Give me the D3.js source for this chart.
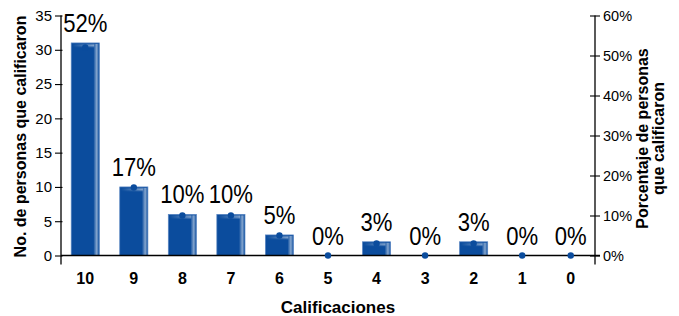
<!DOCTYPE html>
<html>
<head>
<meta charset="utf-8">
<script src="https://cdn.jsdelivr.net/npm/d3@7"></script>
<style>
  html, body { margin: 0; padding: 0; background: #fff; }
  svg { display: block; }
  text { font-family: "Liberation Sans", Arial, sans-serif; fill: #000; }
</style>
</head>
<body>
<svg id="chart" width="679" height="316"></svg>
<script>
const categories = ["10", "9", "8", "7", "6", "5", "4", "3", "2", "1", "0"];
const counts = [31, 10, 6, 6, 3, 0, 2, 0, 2, 0, 0];
const percents = [52, 17, 10, 10, 5, 0, 3, 0, 3, 0, 0];
const leftTicks = [0, 5, 10, 15, 20, 25, 30, 35];
const rightTicks = [0, 10, 20, 30, 40, 50, 60];
const leftTitle = "No. de personas que calificaron";
const rightTitleLines = ["Porcentaje de personas", "que calificaron"];
const xTitle = "Calificaciones";

const W = 679, H = 316;
const margin = { top: 15.5, right: 84, bottom: 60.5, left: 61 };
const svg = d3.select("#chart");
const x0 = margin.left, x1 = W - margin.right;
const y0 = H - margin.bottom, y1 = margin.top;

const x = d3.scaleBand().domain(categories).range([x0, x1]).paddingInner(0.42).paddingOuter(0.21);
const yL = d3.scaleLinear().domain([0, 35]).range([y0, y1]);
const yR = d3.scaleLinear().domain([0, 60]).range([y0, y1]);

const blue = "#0b4c9d";
const defs = svg.append("defs");
const gR = defs.append("linearGradient").attr("id", "gRight").attr("x1", 0).attr("x2", 1).attr("y1", 0).attr("y2", 0);
gR.append("stop").attr("offset", "0%").attr("stop-color", "#fff").attr("stop-opacity", 0);
gR.append("stop").attr("offset", "60%").attr("stop-color", "#fff").attr("stop-opacity", 0.5);
gR.append("stop").attr("offset", "100%").attr("stop-color", "#fff").attr("stop-opacity", 0.1);
const gT = defs.append("linearGradient").attr("id", "gTop").attr("x1", 0).attr("x2", 0).attr("y1", 0).attr("y2", 1);
gT.append("stop").attr("offset", "0%").attr("stop-color", "#fff").attr("stop-opacity", 0.15);
gT.append("stop").attr("offset", "45%").attr("stop-color", "#fff").attr("stop-opacity", 0.5);
gT.append("stop").attr("offset", "100%").attr("stop-color", "#fff").attr("stop-opacity", 0);
const gTh = defs.append("linearGradient").attr("id", "gTopFade").attr("x1", 0).attr("x2", 1).attr("y1", 0).attr("y2", 0);
gTh.append("stop").attr("offset", "0%").attr("stop-color", "#fff").attr("stop-opacity", 0);
gTh.append("stop").attr("offset", "100%").attr("stop-color", "#fff").attr("stop-opacity", 1);
const mTop = defs.append("mask").attr("id", "mTop").attr("maskContentUnits", "objectBoundingBox");
mTop.append("rect").attr("width", 1).attr("height", 1).attr("fill", "url(#gTopFade)");

const data = categories.map((c, i) => ({ c, n: counts[i], p: percents[i] }));
const bw = x.bandwidth();

// bars
const bars = svg.append("g").selectAll("g").data(data.filter(d => d.n > 0)).join("g");
bars.append("rect")
  .attr("x", d => x(d.c)).attr("y", d => yL(d.n))
  .attr("width", bw).attr("height", d => yL(0) - yL(d.n))
  .attr("fill", blue).attr("stroke", "#5a86c2").attr("stroke-width", 0.7);
bars.append("rect")
  .attr("x", d => x(d.c) + bw - 6).attr("y", d => yL(d.n) + 1)
  .attr("width", 5.5).attr("height", d => yL(0) - yL(d.n) - 1)
  .attr("fill", "url(#gRight)");
bars.append("rect")
  .attr("x", d => x(d.c) + 1).attr("y", d => yL(d.n) + 0.5)
  .attr("width", bw - 6).attr("height", 4.5)
  .attr("fill", "url(#gTop)").attr("mask", "url(#mTop)");

// axes lines
const axG = svg.append("g").attr("stroke", "#000").attr("stroke-width", 1.3);
axG.append("line").attr("x1", x0).attr("x2", x1 + 5).attr("y1", y0).attr("y2", y0);
axG.append("line").attr("x1", x0).attr("x2", x0).attr("y1", y1).attr("y2", y0 + 9);
axG.append("line").attr("x1", x1).attr("x2", x1).attr("y1", y1).attr("y2", y0 + 9);

// left axis
const la = svg.append("g").attr("transform", `translate(${x0},0)`)
  .call(d3.axisLeft(yL).tickValues(leftTicks).tickSize(6).tickPadding(3));
la.select(".domain").remove();
la.selectAll(".tick line").attr("stroke", "#000").attr("stroke-width", 1.1).attr("x2", -6).attr("x1", 1.5);
la.selectAll(".tick text").attr("font-size", 15).attr("font-family", "Liberation Sans, Arial, sans-serif").attr("fill", "#111");

// right axis
const ra = svg.append("g").attr("transform", `translate(${x1},0)`)
  .call(d3.axisRight(yR).tickValues(rightTicks).tickFormat(d => d + "%").tickSize(5).tickPadding(3));
ra.select(".domain").remove();
ra.selectAll(".tick line").attr("stroke", "#000").attr("stroke-width", 1.1).attr("x1", -5).attr("x2", 5);
ra.selectAll(".tick text").attr("font-size", 14.5).attr("font-family", "Liberation Sans, Arial, sans-serif").attr("fill", "#111").attr("x", 8);

// x labels
svg.append("g").selectAll("text").data(data).join("text")
  .attr("x", d => x(d.c) + bw / 2).attr("y", y0 + 28.5)
  .attr("text-anchor", "middle").attr("font-weight", "bold").attr("font-size", 16)
  .text(d => d.c);

// dots
svg.append("g").selectAll("circle").data(data).join("circle")
  .attr("cx", d => x(d.c) + bw / 2).attr("cy", d => yR(d.p))
  .attr("r", 3.2).attr("fill", blue);

// percent labels (condensed)
svg.append("g").selectAll("text").data(data).join("text")
  .attr("transform", d => `translate(${x(d.c) + bw / 2},${Math.min(yR(d.p), yL(d.n)) - 11}) scale(0.85,1)`)
  .attr("text-anchor", "middle")
  .attr("font-size", 26)
  .text(d => d.p + "%");

// titles
svg.append("text")
  .attr("transform", `translate(25.5,${(y1 + y0) / 2 + 1}) rotate(-90)`)
  .attr("text-anchor", "middle").attr("font-weight", "bold").attr("font-size", 16)
  .text(leftTitle);
svg.append("g").selectAll("text").data(rightTitleLines).join("text")
  .attr("transform", (d, i) => `translate(${648 + i * 16},${(y1 + y0) / 2 + 3}) rotate(-90)`)
  .attr("text-anchor", "middle").attr("font-weight", "bold").attr("font-size", 16)
  .text(d => d);
svg.append("text")
  .attr("x", 338).attr("y", y0 + 57.5)
  .attr("text-anchor", "middle").attr("font-weight", "bold").attr("font-size", 17)
  .text(xTitle);
</script>
</body>
</html>
